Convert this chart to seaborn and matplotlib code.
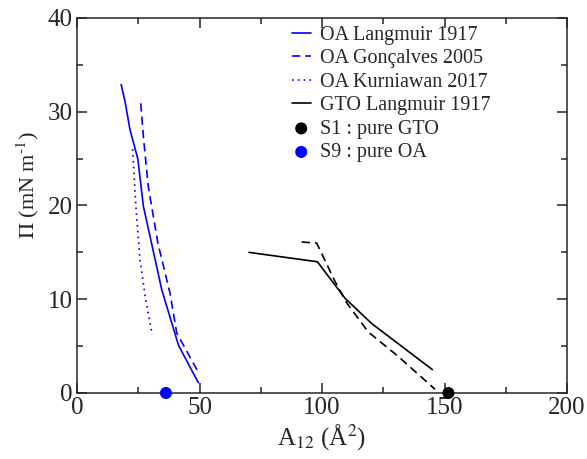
import pandas as pd
import seaborn as sns
import matplotlib.pyplot as plt
from matplotlib.ticker import MultipleLocator

# isotherm data (A in Å^2, Pi in mN/m)
oa_langmuir_a = [18.0, 19.6, 21.6, 24.8, 27.1, 34.6, 41.4, 49.5]
oa_langmuir_pi = [32.9, 31.1, 28.1, 25.0, 19.9, 11.0, 5.1, 1.1]

oa_goncalves_a = [26.0, 27.2, 29.1, 33.0, 38.0, 40.7, 49.1]
oa_goncalves_pi = [30.9, 27.0, 22.0, 16.0, 10.6, 6.4, 2.4]

oa_kurniawan_a = [22.7, 24.0, 25.7, 28.0, 30.7]
oa_kurniawan_pi = [26.0, 20.0, 14.2, 10.0, 6.2]

gto_langmuir_a = [70.2, 98.1, 109.4, 120.3, 145.0]
gto_langmuir_pi = [15.0, 14.0, 10.1, 7.4, 2.5]

gto_dashed_a = [91.7, 97.8, 105.3, 110.1, 118.9, 131.1, 146.1]
gto_dashed_pi = [16.1, 16.0, 11.9, 9.6, 6.5, 3.9, 0.4]

s1_a, s1_pi = [151.6], [0.0]
s9_a, s9_pi = [36.3], [0.0]

sns.set_style("ticks")
plt.rcParams['font.family'] = ['Liberation Serif', 'DejaVu Serif']
plt.rcParams['mathtext.fontset'] = 'stix'

fig = plt.figure(figsize=(5.87, 4.59), dpi=100)
ax = fig.add_axes([0.1312, 0.1438, 0.8348, 0.817])

def draw(a, pi, color, ls, label):
    df = pd.DataFrame({"A": a, "Pi": pi})
    sns.lineplot(data=df, x="A", y="Pi", sort=False, color=color, linestyle=ls,
                 linewidth=1.2, label=label, ax=ax)

draw(oa_langmuir_a, oa_langmuir_pi, "#0000ff", "-", "OA Langmuir 1917")
draw(oa_goncalves_a, oa_goncalves_pi, "#0000ff", (0, (5, 3)), "OA Gonçalves 2005")
draw(oa_kurniawan_a, oa_kurniawan_pi, "#0000ff", (0, (1, 2.5)), "OA Kurniawan 2017")
draw(gto_langmuir_a, gto_langmuir_pi, "black", "-", "GTO Langmuir 1917")
draw(gto_dashed_a, gto_dashed_pi, "black", (0, (5, 3)), None)

sns.scatterplot(x=s1_a, y=s1_pi, color="black", s=75, edgecolor="none",
                label="S1 : pure GTO", ax=ax, clip_on=False, zorder=5)
sns.scatterplot(x=s9_a, y=s9_pi, color="#0000ff", s=75, edgecolor="none",
                label="S9 : pure OA", ax=ax, clip_on=False, zorder=5)

ax.set_xlim(0, 200)
ax.set_ylim(0, 40)
ax.xaxis.set_major_locator(MultipleLocator(50))
ax.xaxis.set_minor_locator(MultipleLocator(25))
ax.yaxis.set_major_locator(MultipleLocator(10))
ax.yaxis.set_minor_locator(MultipleLocator(5))
ax.tick_params(which='both', direction='in', top=True, right=True, width=1.1,
               labelsize=18, pad=3)
ax.tick_params(which='major', length=7)
ax.tick_params(which='minor', length=4.5)
for sp in ax.spines.values():
    sp.set_linewidth(1.1)
    sp.set_visible(True)

ax.set_xlabel(r"A$_{12}$ (Å$^2$)", fontsize=18, labelpad=2)
ax.set_ylabel(r"$\Pi$ (mN m$^{\text{-}1}$)", fontsize=16)
ax.yaxis.set_label_coords(-0.074, 0.555)

ax.legend(loc='upper left', bbox_to_anchor=(0.438, 0.98), frameon=False,
          fontsize=14.5, handlelength=0.95, handletextpad=0.45, labelspacing=0.22,
          borderpad=0, borderaxespad=0, markerscale=1.0)

fig.savefig("out.png", dpi=100)
